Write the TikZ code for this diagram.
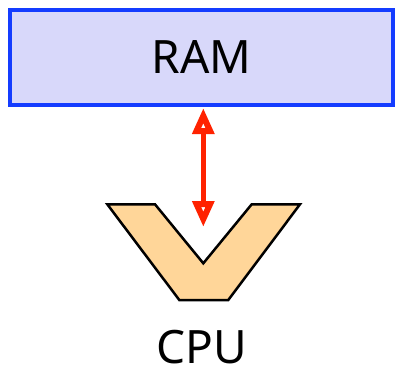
\documentclass[tikz,border=0pt]{standalone}
\usepackage{fontspec}
\setmainfont{Noto Sans}
\usetikzlibrary{arrows.meta}
\definecolor{ramfill}{RGB}{216,216,250}
\definecolor{ramblue}{RGB}{20,60,255}
\definecolor{cpufill}{RGB}{255,214,153}
\definecolor{arrred}{RGB}{255,34,0}
\tikzset{
  rambox/.style={draw=ramblue, fill=ramfill, line width=3.5pt, minimum width=383pt, minimum height=95pt, inner sep=0pt, font=\fontsize{46}{50}\selectfont},
  cpushape/.style={draw=black, fill=cpufill, line width=2.5pt, line join=miter},
  bus/.style={draw=arrred, line width=5.5pt, {Triangle[open,length=26pt,width=21pt,line width=6pt]}-{Triangle[open,length=26pt,width=21pt,line width=6pt]}},
  lbl/.style={font=\fontsize{46}{50}\selectfont, inner sep=0pt, text depth=0pt, anchor=base}
}
\begin{document}
\begin{tikzpicture}[x=1pt,y=-1pt]
\useasboundingbox (0,0) rectangle (395,367);
\node[rambox] (ram) at (201.5,57.5) {RAM};
\draw[cpushape] (107.3,204.3) -- (155,204.3) -- (203.3,263.3) -- (251.7,204.3) -- (300,204.3) -- (228.3,300) -- (179.3,300) -- cycle;
\coordinate (ramport) at (203.3,108);
\coordinate (cpuport) at (203.3,227);
\draw[bus] (ramport) -- (cpuport);
\node[lbl] (cpu) at (201.5,363.5) {CPU};
\end{tikzpicture}
\end{document}
